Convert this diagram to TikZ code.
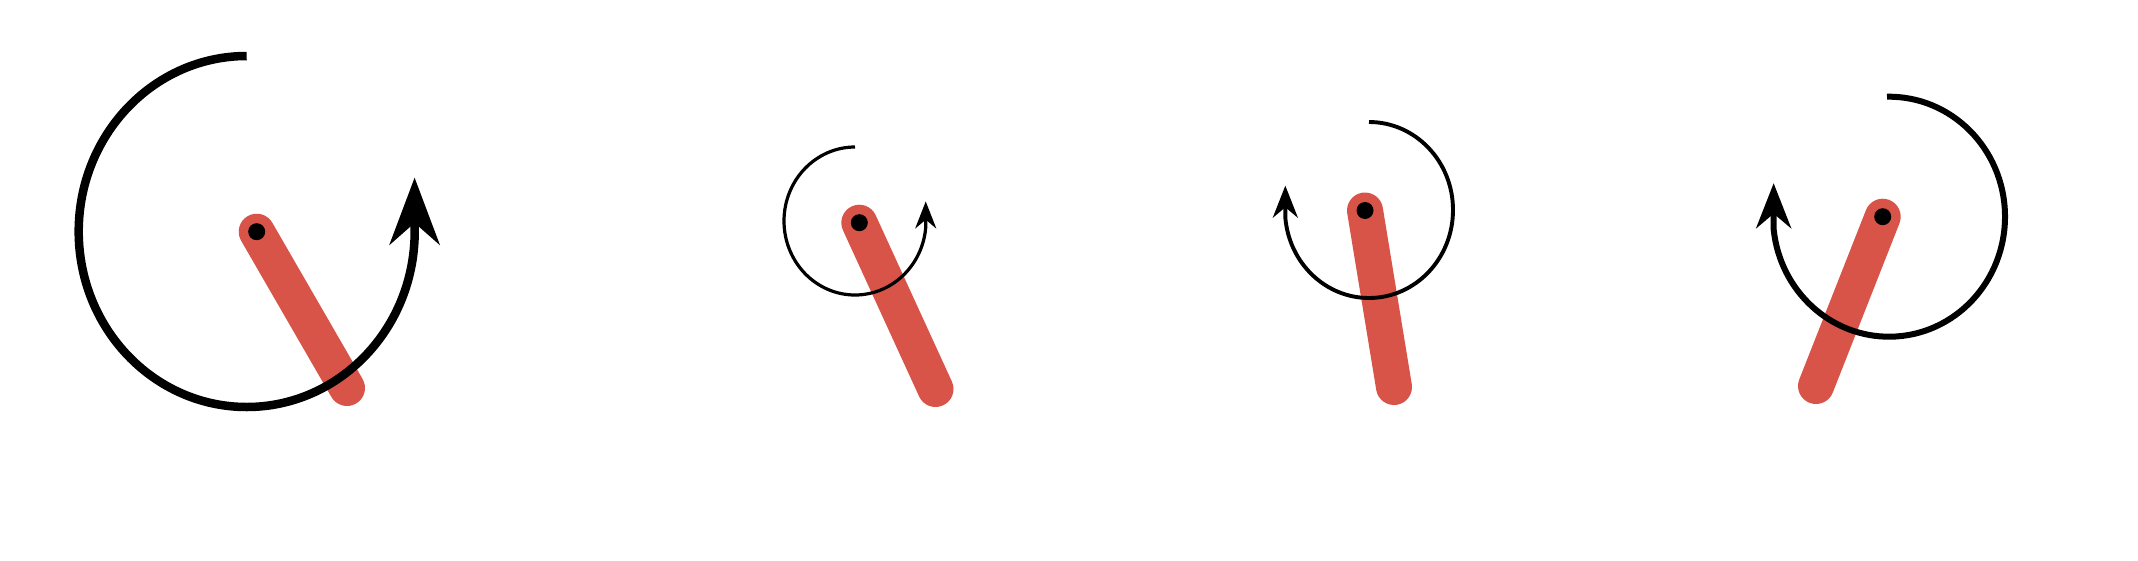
\documentclass[tikz,border=0pt]{standalone}
\usetikzlibrary{arrows.meta}
\definecolor{rodred}{RGB}{217,84,72}
\begin{document}
\begin{tikzpicture}[x=1pt,y=-1pt,
  rod/.style={line width=36pt, line cap=round, draw=rodred},
  pivotdot/.style={circle, fill=black, inner sep=0pt, minimum size=17pt},
  turn/.style={draw=black, line cap=butt}]
\useasboundingbox[fill=white] (0,0) rectangle (2138,560);
% panel 1
\node[pivotdot] (p1) at (256.7,231.7) {};
\coordinate (e1) at (347,388);
\coordinate (c1) at (246.7,231.5);
\draw[rod] (p1.center) -- (e1);
\node[pivotdot] at (p1) {};
\draw[turn, line width=8.5pt, -{Stealth[length=67pt,width=50pt]}]
  ([shift={(-90:168 and 175.5)}]c1) arc[start angle=-90, end angle=-358, x radius=168, y radius=175.5] -- ++(0,-60);
% panel 2
\node[pivotdot] (p2) at (859.3,222.7) {};
\coordinate (e2) at (935.5,389);
\coordinate (c2) at (855,221);
\draw[rod] (p2.center) -- (e2);
\node[pivotdot] at (p2) {};
\draw[turn, line width=3.2pt, -{Stealth[length=27pt,width=21pt]}]
  ([shift={(-90:71 and 74)}]c2) arc[start angle=-90, end angle=-355, x radius=71, y radius=74] -- ++(0,-26);
% panel 3
\node[pivotdot] (p3) at (1365,210.5) {};
\coordinate (e3) at (1394,387);
\coordinate (c3) at (1369,210);
\draw[rod] (p3.center) -- (e3);
\node[pivotdot] at (p3) {};
\draw[turn, line width=3.9pt, -{Stealth[length=32pt,width=25pt]}]
  ([shift={(-90:84 and 88)}]c3) arc[start angle=-90, end angle=175, x radius=84, y radius=88] -- ++(0,-32);
% panel 4
\node[pivotdot] (p4) at (1882.7,216.7) {};
\coordinate (e4) at (1816,386);
\coordinate (c4) at (1889,216.7);
\draw[rod] (p4.center) -- (e4);
\node[pivotdot] at (p4) {};
\draw[turn, line width=6pt, -{Stealth[length=45pt,width=35pt]}]
  ([shift={(-91:116 and 120)}]c4) arc[start angle=-91, end angle=174, x radius=116, y radius=120] -- ++(0,-46);
\end{tikzpicture}
\end{document}
